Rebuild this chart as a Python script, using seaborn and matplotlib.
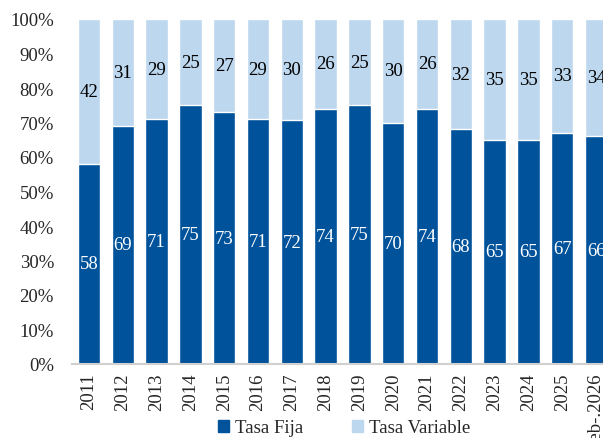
import pandas as pd
import matplotlib.pyplot as plt
import seaborn as sns
from matplotlib.patches import Patch

# data (shares in %)
periods = ["2011", "2012", "2013", "2014", "2015", "2016", "2017", "2018",
           "2019", "2020", "2021", "2022", "2023", "2024", "2025", "Feb-.2026"]
tasa_fija = [58, 69, 71, 75, 73, 71, 72, 74, 75, 70, 74, 68, 65, 65, 67, 66]
tasa_variable = [42, 31, 29, 25, 27, 29, 30, 26, 25, 30, 26, 32, 35, 35, 33, 34]

dark = "#00529B"
light = "#BDD7EE"
fs = 13.5

df = pd.DataFrame({"periodo": periods, "fija": tasa_fija, "variable": tasa_variable})
df["total"] = df["fija"] + df["variable"]
df["fija_pct"] = df["fija"] / df["total"] * 100
df["tope"] = 100.0

sns.set_style("white")
plt.rcParams["font.family"] = ["Liberation Serif", "DejaVu Serif"]

fig = plt.figure(figsize=(6.03, 4.39), dpi=100)
ax = fig.add_axes([72 / 603, 74 / 439, 541 / 603, 345 / 439])

# stacked bars: full light bar, dark share drawn over it
sns.barplot(data=df, x="periodo", y="tope", color=light, saturation=1,
            width=0.66, ax=ax)
sns.barplot(data=df, x="periodo", y="fija_pct", color=dark, saturation=1,
            width=0.66, ax=ax)

# labels at the middle of each segment
for i, row in df.iterrows():
    ax.text(i, row["fija_pct"] / 2, str(row["fija"]), ha="center", va="center",
            color="white", fontsize=fs)
    ax.text(i, (row["fija_pct"] + 100) / 2, str(row["variable"]), ha="center",
            va="center", color="black", fontsize=fs)

ax.set_ylim(0, 100)
ax.set_xlim(-0.5, len(periods) - 0.5)
ax.set_yticks(range(0, 101, 10))
ax.set_yticklabels([f"{v}%" for v in range(0, 101, 10)])
ax.set_xlabel("")
ax.set_ylabel("")
ax.tick_params(axis="y", length=0, pad=13, labelsize=fs)
ax.tick_params(axis="x", length=0, pad=6, labelsize=fs, rotation=90)

for s in ["left", "top", "right"]:
    ax.spines[s].set_visible(False)
ax.spines["bottom"].set_color("#d0d0d0")
ax.spines["bottom"].set_linewidth(1.5)

handles = [Patch(color=dark, label="Tasa Fija"), Patch(color=light, label="Tasa Variable")]
fig.legend(handles=handles, loc="center", bbox_to_anchor=(344 / 603, 10 / 439),
           ncol=2, frameon=False, fontsize=fs, handlelength=0.6,
           handleheight=0.6, handletextpad=0.3, columnspacing=2.6,
           borderaxespad=0, borderpad=0)

fig.savefig("out.png", dpi=100)
